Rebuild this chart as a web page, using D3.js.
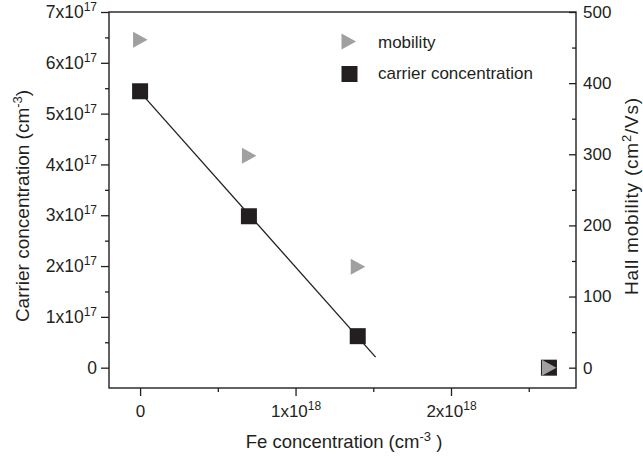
<!DOCTYPE html>
<html>
<head>
<meta charset="utf-8">
<script src="https://cdn.jsdelivr.net/npm/d3@7"></script>
<style>
  html, body { margin: 0; padding: 0; background: #fff; }
  svg { display: block; font-family: "Liberation Sans", Arial, Helvetica, sans-serif; }
</style>
</head>
<body>
<svg id="chart" width="643" height="461"></svg>
<script>
// Fe-doped samples: Fe concentration (cm^-3)
const feConc = [0, 0.7e18, 1.4e18, 2.63e18];
// Carrier concentration (cm^-3), left axis
const carrierConc = [5.44e17, 2.98e17, 0.62e17, 0];
// Hall mobility (cm^2/Vs), right axis
const mobility = [461, 298, 142, 0];
// Range over which the linear fit of carrier concentration is drawn
const fitRange = [0, 1.515e18];

// Tick values and their labels (mantissa, exponent)
const xMajor = [0, 1e18, 2e18];
const xMinor = [0.5e18, 1.5e18, 2.5e18];
const xLabels = [["0", ""], ["1x10", "18"], ["2x10", "18"]];
const yLMajor = [0, 1e17, 2e17, 3e17, 4e17, 5e17, 6e17, 7e17];
const yLMinor = [0.5e17, 1.5e17, 2.5e17, 3.5e17, 4.5e17, 5.5e17, 6.5e17];
const yLLabels = [["0", ""], ["1x10", "17"], ["2x10", "17"], ["3x10", "17"], ["4x10", "17"],
                  ["5x10", "17"], ["6x10", "17"], ["7x10", "17"]];
const yRMajor = [0, 100, 200, 300, 400, 500];
const yRMinor = [50, 150, 250, 350, 450];

const ink = "#231f20";
const grey = "#a0a0a0";
const fontSize = 17;
const supSize = 12;
const supShift = 7;

const svg = d3.select("#chart");
const plotL = 109, plotR = 576, plotT = 12, plotB = 388;

const x = d3.scaleLinear().domain([-0.2e18, 2.804e18]).range([plotL, plotR]);
const yL = d3.scaleLinear().domain([-0.4e17, 7e17]).range([plotB, plotT]);
const yR = d3.scaleLinear().domain([-500 * 0.4 / 7, 500]).range([plotB, plotT]);

// Writes "mantissa" + superscript "exponent" into an axis label
function supLabel(sel, labels, values) {
  sel.each(function (d) {
    const i = values.indexOf(d);
    const t = d3.select(this).text(null);
    t.append("tspan").text(labels[i][0]);
    if (labels[i][1]) {
      t.append("tspan").attr("dy", -supShift).attr("font-size", supSize).text(labels[i][1]);
    }
  });
}

function styleAxis(g) {
  g.select(".domain").remove();
  g.selectAll("line").attr("stroke", ink).attr("stroke-width", 1.3);
  g.selectAll("text").attr("fill", ink).attr("font-size", fontSize)
    .attr("font-family", "Liberation Sans, Arial, sans-serif");
}

// Bottom axis
const gx = svg.append("g").attr("transform", `translate(0,${plotB})`)
  .call(d3.axisBottom(x).tickValues(xMajor).tickSize(8).tickPadding(9));
styleAxis(gx);
gx.selectAll(".tick text").call(supLabel, xLabels, xMajor);
const gxm = svg.append("g").attr("transform", `translate(0,${plotB})`)
  .call(d3.axisBottom(x).tickValues(xMinor).tickSize(4).tickFormat(""));
styleAxis(gxm);

// Left axis
const gyl = svg.append("g").attr("transform", `translate(${plotL},0)`)
  .call(d3.axisLeft(yL).tickValues(yLMajor).tickSize(8).tickPadding(4));
styleAxis(gyl);
gyl.selectAll(".tick text").attr("font-size", 17.5).call(supLabel, yLLabels, yLMajor);
const gylm = svg.append("g").attr("transform", `translate(${plotL},0)`)
  .call(d3.axisLeft(yL).tickValues(yLMinor).tickSize(4).tickFormat(""));
styleAxis(gylm);

// Right axis (ticks point into the plot)
const gyr = svg.append("g").attr("transform", `translate(${plotR},0)`)
  .call(d3.axisRight(yR).tickValues(yRMajor).tickSizeInner(-7).tickSizeOuter(0).tickPadding(7));
styleAxis(gyr);
const gyrm = svg.append("g").attr("transform", `translate(${plotR},0)`)
  .call(d3.axisRight(yR).tickValues(yRMinor).tickSizeInner(-4).tickSizeOuter(0).tickFormat(""));
styleAxis(gyrm);

// Plot frame
svg.append("rect")
  .attr("x", plotL).attr("y", plotT)
  .attr("width", plotR - plotL).attr("height", plotB - plotT)
  .attr("fill", "none").attr("stroke", ink).attr("stroke-width", 1.4);

// Least-squares line through the non-zero carrier points
const fitIdx = d3.range(feConc.length).filter(i => carrierConc[i] > 0);
const mx = d3.mean(fitIdx, i => feConc[i]);
const my = d3.mean(fitIdx, i => carrierConc[i]);
const slope = d3.sum(fitIdx, i => (feConc[i] - mx) * (carrierConc[i] - my)) /
              d3.sum(fitIdx, i => (feConc[i] - mx) ** 2);
const intercept = my - slope * mx;
svg.append("line")
  .attr("x1", x(fitRange[0])).attr("y1", yL(intercept + slope * fitRange[0]))
  .attr("x2", x(fitRange[1])).attr("y2", yL(intercept + slope * fitRange[1]))
  .attr("stroke", ink).attr("stroke-width", 1.3);

// Marker shapes
const sq = 16;
const triPath = (cx, cy) => `M${cx - 7},${cy - 8}L${cx + 7.5},${cy}L${cx - 7},${cy + 8}Z`;

// Carrier concentration squares
svg.append("g").selectAll("rect").data(feConc).join("rect")
  .attr("x", (d, i) => x(d) - sq / 2)
  .attr("y", (d, i) => yL(carrierConc[i]) - sq / 2)
  .attr("width", sq).attr("height", sq)
  .attr("fill", ink);

// Mobility triangles
svg.append("g").selectAll("path").data(feConc).join("path")
  .attr("d", (d, i) => triPath(x(d), yR(mobility[i])))
  .attr("fill", grey);

// Legend
const legend = svg.append("g");
legend.append("path").attr("d", triPath(348.5, 41.5)).attr("fill", grey);
legend.append("text").attr("x", 378).attr("y", 48).attr("font-size", fontSize)
  .attr("fill", ink).text("mobility");
legend.append("rect").attr("x", 349.5 - sq / 2).attr("y", 74 - sq / 2)
  .attr("width", sq).attr("height", sq).attr("fill", ink);
legend.append("text").attr("x", 378).attr("y", 79).attr("font-size", fontSize)
  .attr("fill", ink).text("carrier concentration");

// Axis titles
function title(t, parts, sup) {
  parts.forEach(p => {
    const s = t.append("tspan").text(p[0]);
    if (p[1] === "sup") s.attr("font-size", sup).attr("dy", -supShift);
    if (p[1] === "base") s.attr("dy", supShift);
  });
}

const xt = svg.append("text").attr("x", 344).attr("y", 448)
  .attr("text-anchor", "middle").attr("font-size", 18.5).attr("fill", ink);
title(xt, [["Fe concentration (cm"], ["-3", "sup"], [" )", "base"]], 13);

const ylt = svg.append("text").attr("transform", "translate(29,206) rotate(-90)")
  .attr("text-anchor", "middle").attr("font-size", 19).attr("fill", ink);
title(ylt, [["Carrier concentration (cm"], ["-3", "sup"], [")", "base"]], 13);

const yrt = svg.append("text").attr("transform", "translate(638,196) rotate(-90)")
  .attr("text-anchor", "middle").attr("font-size", 19).attr("letter-spacing", 0.8)
  .attr("fill", ink);
title(yrt, [["Hall mobility (cm"], ["2", "sup"], ["/Vs)", "base"]], 13);
</script>
</body>
</html>
